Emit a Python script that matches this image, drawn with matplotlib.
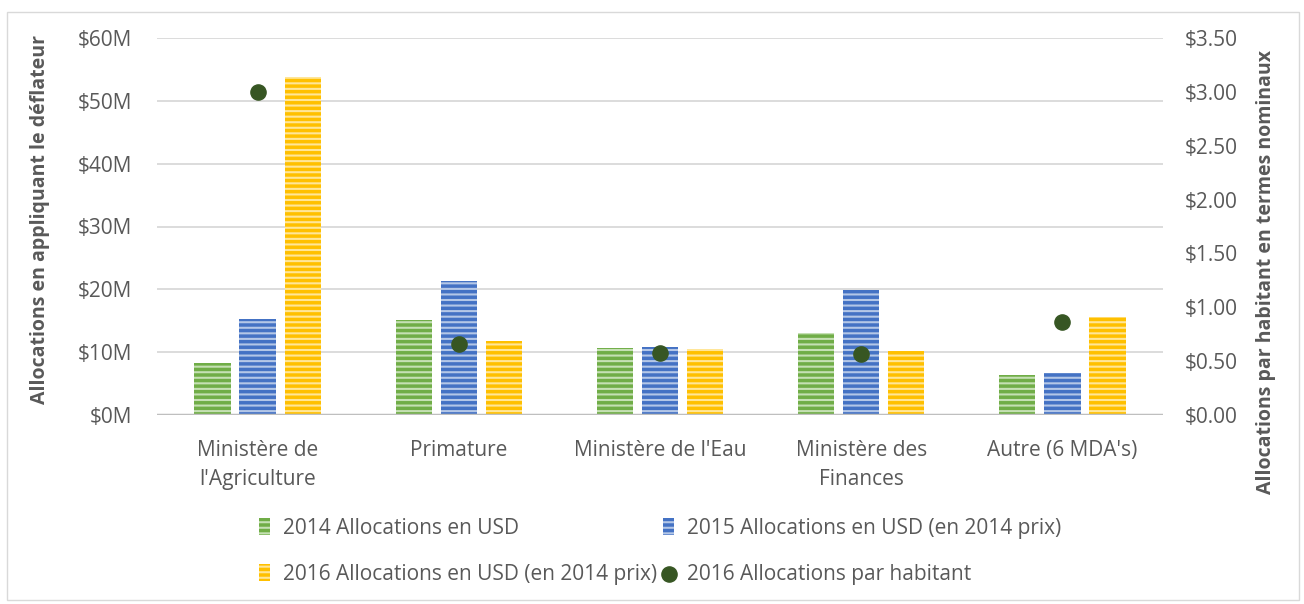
import matplotlib
matplotlib.use("Agg")
import matplotlib.pyplot as plt
import numpy as np
from matplotlib.patches import Rectangle

categories = ["Ministère de\nl'Agriculture", "Primature", "Ministère de l'Eau",
              "Ministère des\nFinances", "Autre (6 MDA's)"]
alloc_2014 = [8.3, 15.1, 10.7, 13.1, 6.4]
alloc_2015 = [15.3, 21.3, 10.8, 19.9, 6.7]
alloc_2016 = [53.8, 11.8, 10.5, 10.2, 15.6]
per_capita_2016 = [3.00, 0.66, 0.58, 0.57, 0.86]

labels = ["2014 Allocations en USD",
          "2015 Allocations en USD (en 2014 prix)",
          "2016 Allocations en USD (en 2014 prix)",
          "2016 Allocations par habitant"]
left_ticks = [0, 10, 20, 30, 40, 50, 60]
right_ticks = [0, 0.5, 1.0, 1.5, 2.0, 2.5, 3.0, 3.5]

plt.rcParams['font.family'] = ['Open Sans', 'DejaVu Sans']
plt.rcParams['hatch.linewidth'] = 2.5
txt = '#595959'
fs = 15
fsl = 14

fig = plt.figure(figsize=(13.04, 6.04), dpi=100)
ax = fig.add_axes([157/1304, 1-415/604, (1163-157)/1304, (415-38)/604])
ax2 = ax.twinx()

x = np.arange(len(categories))
w = 0.18
off = 0.224
colors = ['#70ad47', '#4472c4', '#ffc000']
lights = ['#c5e0b4', '#b4c7e7', '#ffe699']
series = [alloc_2014, alloc_2015, alloc_2016]
handles = []
for i, (vals, c, lc) in enumerate(zip(series, colors, lights)):
    b = ax.bar(x + (i - 1) * off, vals, width=w, facecolor=lc, edgecolor=c,
               hatch='---', linewidth=0, zorder=3, label=labels[i])
    handles.append(b)

sc = ax2.scatter(x, per_capita_2016, s=120, color='#375623', zorder=5, label=labels[3])

ax.set_xlim(-0.5, len(categories) - 0.5)
ax.set_ylim(0, 60)
ax2.set_ylim(0, 3.5)
ax.set_yticks(left_ticks)
ax.set_yticklabels([f"${v}M" for v in left_ticks])
ax2.set_yticks(right_ticks)
ax2.set_yticklabels([f"${v:.2f}" for v in right_ticks])
ax.set_xticks(x)
ax.set_xticklabels(categories, fontsize=fs, color=txt, linespacing=1.5)

ax.grid(axis='y', color='#d9d9d9', linewidth=1.3, zorder=0)
ax.set_axisbelow(True)
for a in (ax, ax2):
    for s in ['top', 'left', 'right', 'bottom']:
        a.spines[s].set_visible(False)
    a.tick_params(length=0, labelsize=fs, labelcolor=txt)
ax.axhline(0, color='#bfbfbf', linewidth=2.5, zorder=4)
ax.tick_params(axis='y', pad=18)
ax2.tick_params(axis='y', pad=16)
ax.tick_params(axis='x', pad=18)

ax.set_ylabel("Allocations en appliquant le déflateur", fontsize=fsl, fontweight='bold',
              color=txt)
ax.yaxis.set_label_coords((50 - 157) / 1006, (415 - 220) / 377)
ax2.set_ylabel("Allocations par habitant en termes nominaux", fontsize=fsl, fontweight='bold',
               color=txt, rotation=90)
ax2.yaxis.set_label_coords((1256 - 157) / 1006, (415 - 272) / 377)

leg = fig.legend([handles[0], handles[2], handles[1], sc],
                 [labels[0], labels[2], labels[1], labels[3]],
                 ncol=2, loc='upper center', bbox_to_anchor=(0.506, 0.16),
                 frameon=False, fontsize=fs, labelcolor=txt,
                 handlelength=0.55, handleheight=0.85, handletextpad=0.6,
                 columnspacing=0.3, labelspacing=1.2, borderpad=0.0)

fig.patches.append(Rectangle((7/1304, 4/604), 1292/1304, 588/604, transform=fig.transFigure,
                             fill=False, edgecolor='#d9d9d9', linewidth=1))

fig.savefig("out.png", dpi=100)
